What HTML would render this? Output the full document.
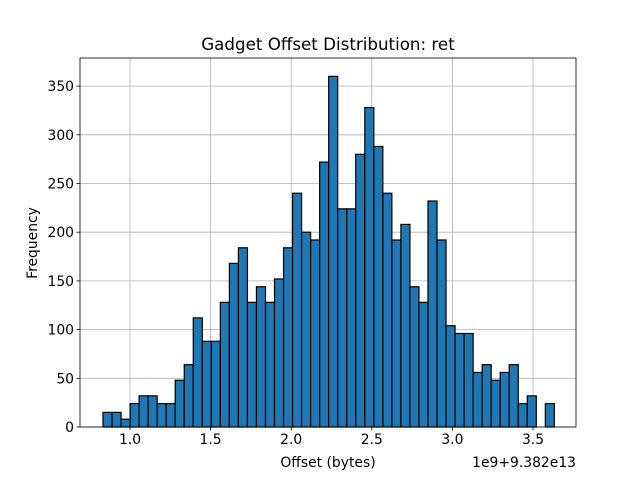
<!DOCTYPE html>
<html><head><meta charset="utf-8"><style>
body{margin:0;background:#fff;}
svg{display:block;font-family:"DejaVu Sans","Liberation Sans",sans-serif;}
</style></head><body>
<svg id="chart" width="640" height="480">
<rect width="640" height="480" fill="#fff"/>
<text x="328" y="50" font-size="16.7" text-anchor="middle">Gadget Offset Distribution: ret</text>
<g id="grid"></g><g id="bars"></g><g id="axes"></g>
<text x="328" y="467" font-size="13.9" text-anchor="middle">Offset (bytes)</text>
<text x="576" y="467" font-size="13.9" text-anchor="end">1e9+9.382e13</text>
<text transform="translate(37,243) rotate(-90)" font-size="13.9" text-anchor="middle">Frequency</text>
</svg>
<script>
const binStart = 0.8325;
const binWidth = 0.056;
const counts = [15,15,8,24,32,32,24,24,48,64,112,88,88,128,168,184,128,144,128,152,184,240,200,192,272,360,224,224,280,328,288,240,192,208,144,128,232,192,104,96,96,56,64,48,56,64,24,32,0,24];
const xTicks = [1.0,1.5,2.0,2.5,3.0,3.5];
const xTickLabels = ["1.0","1.5","2.0","2.5","3.0","3.5"];
const yTicks = [0,50,100,150,200,250,300,350];
const L=80,R=576,T=58,B=427;
const xs = v => 130 + (v-1.0)*161.2;
const ys = v => B - v*0.974;
const NS="http://www.w3.org/2000/svg";
function mk(tag,attrs,parent){const e=document.createElementNS(NS,tag);for(const k in attrs)e.setAttribute(k,attrs[k]);parent.appendChild(e);return e;}
const grid=document.getElementById('grid'),bars=document.getElementById('bars'),axes=document.getElementById('axes');
xTicks.forEach((t,i)=>{const x=xs(t);
 const g=mk('line',{x1:x,x2:x,y1:T,y2:B,stroke:'#b0b0b0','stroke-width':0.8},grid);
 
 
 mk('line',{x1:x,x2:x,y1:B,y2:B+3.5,stroke:'#000','stroke-width':0.8},axes);
 const tx=mk('text',{x:x,y:B+17,'font-size':13.9,'text-anchor':'middle'},axes);tx.textContent=xTickLabels[i];
 
 
});
yTicks.forEach(t=>{const y=ys(t);
 const g=mk('line',{x1:L,x2:R,y1:y,y2:y,stroke:'#b0b0b0','stroke-width':0.8},grid);
 
 
 mk('line',{x1:L-3.5,x2:L,y1:y,y2:y,stroke:'#000','stroke-width':0.8},axes);
 const tx=mk('text',{x:L-6,y:y+5,'font-size':13.9,'text-anchor':'end'},axes);tx.textContent=t;
 
 
});
counts.forEach((c,i)=>{if(c<=0)return;
 const x0=xs(binStart+i*binWidth),x1=xs(binStart+(i+1)*binWidth);
 const r=mk('rect',{x:x0,y:ys(c),width:x1-x0,height:B-ys(c),fill:'#1f77b4',stroke:'#000','stroke-width':1.2},bars);
 
 
});
const f=mk('rect',{x:L,y:T,width:R-L,height:B-T,fill:'none',stroke:'#000','stroke-width':0.8},axes);


</script>
</body></html>
